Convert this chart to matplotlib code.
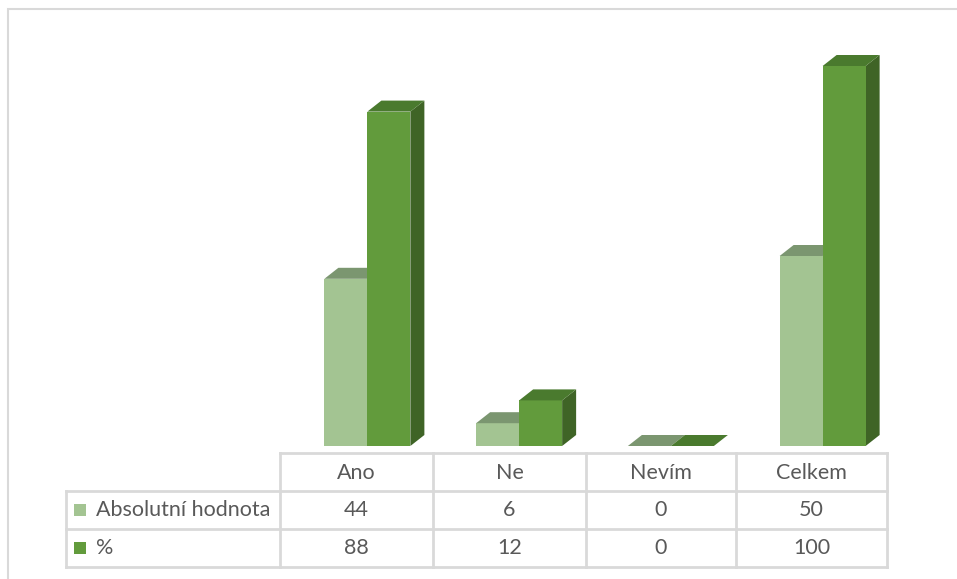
"""3D-style grouped bar chart with data table below (Ano / Ne / Nevím / Celkem)"""

import matplotlib
matplotlib.use('Agg')
import matplotlib.pyplot as plt
from matplotlib.patches import Polygon, Rectangle
from matplotlib.lines import Line2D

categories = ['Ano', 'Ne', 'Nevím', 'Celkem']
series_names = ['Absolutní hodnota', '%']
absolutni = [44, 6, 0, 50]
procenta = [88, 12, 0, 100]

# colours: front, top, side for each series
light = ('#a3c492', '#7b9670', '#6f8a5f')
dark = ('#629b3c', '#4a7a2e', '#3f6426')
grid_col = '#d9d9d9'
text_col = '#595959'

W, H = 957, 579
fig = plt.figure(figsize=(W / 100, H / 100), dpi=100)
plt.rcParams['font.family'] = ['Lato', 'DejaVu Sans']


def fx(px):
    return px / W


def fy(py):
    return 1 - py / H


# outer chart border
fig.add_artist(Rectangle((fx(8), fy(H + 5)), fx(W + 5) - fx(8), fy(9) - fy(H + 5),
                         transform=fig.transFigure, fill=False, ec=grid_col, lw=1.5))

# table geometry (pixels)
col_x = [280, 433, 586, 736, 887]
label_x = 66
row_y = [453, 491, 529, 567]

# bar axes: same horizontal span as the table columns, baseline at y=446
base_y, top_y = 446, 20
ax = fig.add_axes([fx(col_x[0]), fy(base_y), fx(col_x[-1]) - fx(col_x[0]), fy(top_y) - fy(base_y)])
ax.axis('off')
px_per_unit = 3.8
shift = 11.5 / 151.75
ax.set_xlim(-0.5 - shift, len(categories) - 0.5 - shift)
ax.set_ylim(0, (base_y - top_y) / px_per_unit)

bw = 43 / 151.75           # bar width in category units
ddx = 14 / 151.75          # depth offset x
ddy = 11 / px_per_unit     # depth offset y

for i, (a, p) in enumerate(zip(absolutni, procenta)):
    for x0, h, cols in [(i - bw, a, light), (i, p, dark)]:
        x1 = x0 + bw
        # side face
        ax.add_patch(Polygon([(x1, 0), (x1 + ddx, ddy), (x1 + ddx, h + ddy), (x1, h)],
                             closed=True, fc=cols[2], ec='none'))
        # front face
        ax.bar(x0, h, width=bw, align='edge', color=cols[0], edgecolor='none')
        # top face
        ax.add_patch(Polygon([(x0, h), (x1, h), (x1 + ddx, h + ddy), (x0 + ddx, h + ddy)],
                             closed=True, fc=cols[1], ec='none'))

# table lines
lw = 2


def hline(y, xa, xb):
    fig.add_artist(Line2D([fx(xa), fx(xb)], [fy(y), fy(y)], transform=fig.transFigure,
                          color=grid_col, lw=lw))


def vline(x, ya, yb):
    fig.add_artist(Line2D([fx(x), fx(x)], [fy(ya), fy(yb)], transform=fig.transFigure,
                          color=grid_col, lw=lw))


hline(row_y[0], col_x[0], col_x[-1])
for y in row_y[1:]:
    hline(y, label_x, col_x[-1])
for x in col_x:
    vline(x, row_y[0], row_y[-1])
vline(label_x, row_y[1], row_y[-1])

fs = 15.5
for j, cat in enumerate(categories):
    cx = (col_x[j] + col_x[j + 1]) / 2
    fig.text(fx(cx), fy((row_y[0] + row_y[1]) / 2 + 1), cat, ha='center', va='center',
             fontsize=fs, color=text_col)
    fig.text(fx(cx), fy((row_y[1] + row_y[2]) / 2), str(absolutni[j]), ha='center', va='center',
             fontsize=fs, color=text_col)
    fig.text(fx(cx), fy((row_y[2] + row_y[3]) / 2), str(procenta[j]), ha='center', va='center',
             fontsize=fs, color=text_col)

# legend keys inside the table
for k, (name, cols) in enumerate(zip(series_names, [light, dark])):
    yc = (row_y[k + 1] + row_y[k + 2]) / 2
    fig.add_artist(Rectangle((fx(74), fy(yc + 6)), fx(12), fy(0) - fy(12),
                             transform=fig.transFigure, fc=cols[0], ec='none'))
    fig.text(fx(96), fy(yc), name, ha='left', va='center', fontsize=fs, color=text_col)

fig.savefig('out.png', dpi=100)
